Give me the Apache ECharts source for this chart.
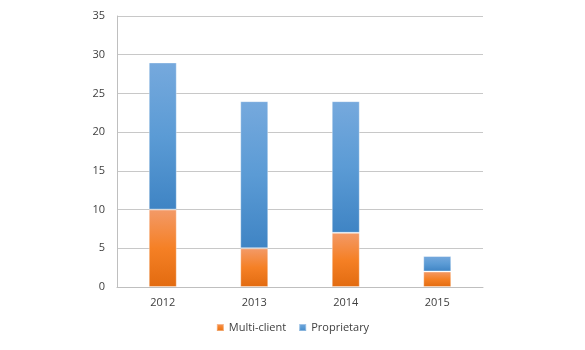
<!DOCTYPE html>
<html><head><meta charset="utf-8">
<script src="https://cdn.jsdelivr.net/npm/echarts@6/dist/echarts.min.js"></script>
<style>html,body{margin:0;padding:0;background:#fff}#c{width:585px;height:350px}</style>
</head><body><div id="c"></div>
<script>
var categories = ['2012','2013','2014','2015'];
var multiClient = [10, 5, 7, 2];
var proprietary = [19, 19, 17, 2];
var yTicks = {min:0, max:35, interval:5};

function grad(top, mid, bot){
  return new echarts.graphic.LinearGradient(0,0,0,1,[{offset:0,color:top},{offset:0.5,color:mid},{offset:1,color:bot}]);
}
var chart = echarts.init(document.getElementById('c'));
var font = 'Open Sans, Liberation Sans, sans-serif';
chart.setOption({
  animation:false,
  textStyle:{fontFamily:font},
  grid:{left:117, right:102, top:16, bottom:63},
  legend:{bottom:12, left:'center', itemWidth:7, itemHeight:7, itemGap:12, icon:'rect',
    textStyle:{fontSize:11, color:'#404040', fontFamily:font},
    data:['Multi-client','Proprietary']},
  xAxis:{type:'category', data:categories,
    axisLine:{lineStyle:{color:'#BFBFBF'}}, axisTick:{show:false},
    axisLabel:{fontSize:11, color:'#404040', margin:10}},
  yAxis:{type:'value', min:yTicks.min, max:yTicks.max, interval:yTicks.interval,
    axisLine:{show:true, lineStyle:{color:'#BFBFBF'}}, axisTick:{show:false},
    splitLine:{lineStyle:{color:'#C8C8C8'}},
    axisLabel:{fontSize:11, color:'#404040', margin:12}},
  series:[
    {name:'Multi-client', type:'bar', stack:'a', data:multiClient, barWidth:28,
      itemStyle:{color:grad('#F39A68','#F58025','#E26B10'), borderColor:'rgba(255,255,255,0.35)', borderWidth:1}},
    {name:'Proprietary', type:'bar', stack:'a', data:proprietary, barWidth:28,
      itemStyle:{color:grad('#76A9DD','#5B9BD5','#3F84C4'), borderColor:'rgba(255,255,255,0.35)', borderWidth:1}}
  ]
});
</script></body></html>
